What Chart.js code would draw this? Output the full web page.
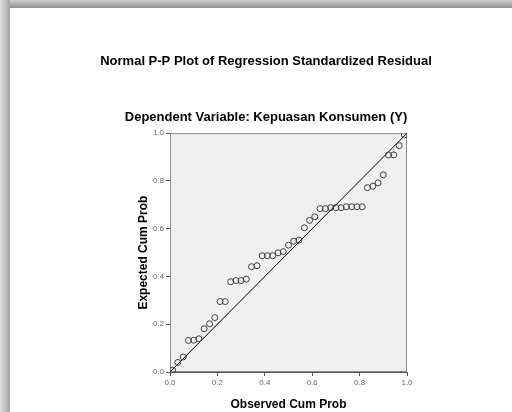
<!DOCTYPE html>
<html>
<head>
<meta charset="utf-8">
<script src="https://cdn.jsdelivr.net/npm/chart.js@4/dist/chart.umd.min.js"></script>
<style>
  html, body { margin: 0; padding: 0; background: #fff; overflow: hidden; }
  #shadowTop {
    position: absolute; left: 0; top: 0; width: 512px; height: 8px;
    background: linear-gradient(to bottom, #cfcfcf, #8e8e8e);
  }
  #shadowLeft {
    position: absolute; left: 0; top: 0; width: 10px; height: 412px;
    background: linear-gradient(to right, #e2e2e2, #a4a4a4);
  }
  #wrap { position: absolute; left: 0; top: 0; width: 512px; height: 412px; }
</style>
</head>
<body>
<div id="shadowTop"></div>
<div id="shadowLeft"></div>
<div id="wrap"><canvas id="ppChart" width="512" height="412"></canvas></div>
<script>
// observed vs expected cumulative probabilities
const observedCum = [
  0.011, 0.033, 0.056, 0.078, 0.100, 0.122, 0.144, 0.167, 0.189, 0.211,
  0.233, 0.256, 0.278, 0.300, 0.322, 0.344, 0.367, 0.389, 0.411, 0.433,
  0.456, 0.478, 0.500, 0.522, 0.544, 0.567, 0.589, 0.611, 0.633, 0.656,
  0.678, 0.700, 0.722, 0.744, 0.767, 0.789, 0.811, 0.833, 0.856, 0.878,
  0.900, 0.922, 0.944, 0.967, 0.989
];
const expectedCum = [
  0.008, 0.040, 0.063, 0.132, 0.133, 0.139, 0.181, 0.202, 0.228, 0.295,
  0.295, 0.378, 0.383, 0.383, 0.389, 0.441, 0.445, 0.487, 0.487, 0.487,
  0.499, 0.504, 0.531, 0.548, 0.552, 0.604, 0.635, 0.650, 0.684, 0.684,
  0.688, 0.688, 0.688, 0.692, 0.692, 0.692, 0.692, 0.772, 0.778, 0.792,
  0.826, 0.909, 0.909, 0.948, 0.993
];
const refLineX = [0, 1];
const refLineY = [0, 1];
const tickValues = [0, 0.2, 0.4, 0.6, 0.8, 1.0];

const points = observedCum.map((x, i) => ({ x: x, y: expectedCum[i] }));
const refLine = refLineX.map((x, i) => ({ x: x, y: refLineY[i] }));

// grey plot background + frame
const plotBg = {
  id: "plotBg",
  beforeDatasetsDraw(chart) {
    const a = chart.chartArea;
    const ctx = chart.ctx;
    ctx.save();
    ctx.fillStyle = "#f0f0f0";
    ctx.fillRect(a.left, a.top, a.right - a.left, a.bottom - a.top);
    ctx.strokeStyle = "#8a8a8a";
    ctx.lineWidth = 1;
    ctx.strokeRect(a.left + 0.5, a.top + 0.5, a.right - a.left - 1, a.bottom - a.top - 1);
    ctx.restore();
  },
};

const fam = "'Liberation Sans', Arial, sans-serif";
const axisFont = { family: fam, size: 8 };
const titleFont = { family: fam, size: 13, weight: "bold" };
const axisTitleFont = { family: fam, size: 12, weight: "bold" };

const ctx = document.getElementById("ppChart").getContext("2d");
const chart = new Chart(ctx, {
  type: "scatter",
  data: {
    datasets: [
      {
        label: "Observed",
        data: points,
        pointStyle: "circle",
        pointRadius: 3,
        pointBorderWidth: 1,
        borderColor: "#404040",
        backgroundColor: "rgba(0,0,0,0)",
        order: 1,
      },
      {
        label: "Reference",
        type: "line",
        data: refLine,
        borderColor: "#000",
        borderWidth: 1,
        pointRadius: 0,
        fill: false,
        order: 2,
      },
    ],
  },
  plugins: [plotBg],
  options: {
    responsive: false,
    animation: false,
    layout: { padding: { left: 20, right: 0, top: 0, bottom: 0 } },
    plugins: {
      legend: { display: false },
      tooltip: { enabled: false },
      title: {
        display: true,
        text: "Normal P-P Plot of Regression Standardized Residual",
        color: "#000",
        font: titleFont,
        padding: { top: 54, bottom: 0 },
      },
      subtitle: {
        display: true,
        text: "Dependent Variable: Kepuasan Konsumen (Y)",
        color: "#000",
        font: titleFont,
        padding: { top: 40, bottom: 8 },
      },
    },
    scales: {
      x: {
        type: "linear",
        min: 0,
        max: 1,
        afterBuildTicks: (s) => { s.ticks = tickValues.map((v) => ({ value: v })); },
        afterFit: (s) => { s.height = 40; },
        ticks: { color: "#666", font: axisFont, padding: 2, callback: (v) => v.toFixed(1) },
        grid: { drawOnChartArea: false, tickLength: 4, color: "#555" },
        border: { color: "#555" },
        title: { display: true, text: "Observed Cum Prob", color: "#000", font: axisTitleFont, padding: { top: 0, bottom: 0 } },
      },
      y: {
        type: "linear",
        min: 0,
        max: 1,
        afterBuildTicks: (s) => { s.ticks = tickValues.map((v) => ({ value: v })); },
        afterFit: (s) => { s.width = 150; },
        ticks: { color: "#666", font: axisFont, padding: 2, callback: (v) => v.toFixed(1) },
        grid: { drawOnChartArea: false, tickLength: 4, color: "#555" },
        border: { color: "#555" },
        title: { display: true, text: "Expected Cum Prob", color: "#000", font: axisTitleFont, padding: { top: 116, bottom: 0 } },
      },
      // empty right axis, only reserves the white margin on the right
      yRight: {
        type: "linear",
        position: "right",
        min: 0,
        max: 1,
        afterFit: (s) => { s.width = 105; },
        ticks: { display: false },
        grid: { display: false },
        border: { display: false },
      },
    },
  },
});
</script>
</body>
</html>
